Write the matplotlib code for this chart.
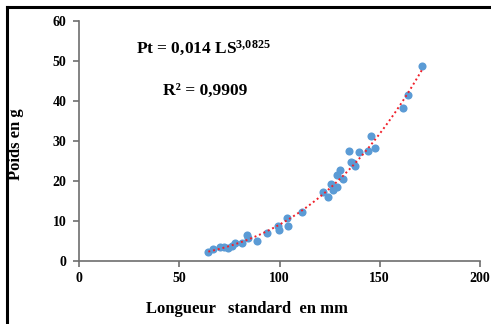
import numpy as np
import matplotlib
matplotlib.use("Agg")
import matplotlib.pyplot as plt
from matplotlib.lines import Line2D

# longueur standard (mm) / poids (g)
ls = [64.5, 67, 70.3, 72.3, 74.5, 76.1, 77.8, 81.1, 83.6, 84.4, 88.6, 93.6,
      99.4, 99.9, 103.6, 104.4, 111, 121.9, 124, 125.5, 126.8, 128.8, 128.8,
      130.2, 131.8, 134.5, 135.7, 136.5, 137.8, 139.5, 144.3, 145.6, 147.8,
      161.8, 163.9, 171.2]
pt = [2.2, 2.9, 3.4, 3.6, 3.3, 3.75, 4.4, 4.6, 6.5, 5.7, 5.1, 6.9,
      8.75, 7.75, 10.8, 8.8, 12.25, 17.2, 15.9, 19.2, 17.75, 18.4, 21.6,
      22.75, 20.5, 27.5, 24.7, 24.4, 23.8, 27.2, 27.6, 31.3, 28.3,
      38.3, 41.5, 48.8]

xticks = [0, 50, 100, 150, 200]
yticks = [0, 10, 20, 30, 40, 50, 60]

plt.rcParams['font.family'] = ['Liberation Serif', 'DejaVu Serif']
plt.rcParams['font.weight'] = 'bold'
plt.rcParams['mathtext.fontset'] = 'custom'
plt.rcParams['mathtext.rm'] = 'Liberation Serif'
plt.rcParams['mathtext.bf'] = 'Liberation Serif:bold'
plt.rcParams['mathtext.default'] = 'bf'

fig = plt.figure(figsize=(4.91, 3.24), dpi=100)
ax = fig.add_axes([79 / 491, 1 - 261 / 324, 401 / 491, 240 / 324])

ax.scatter(ls, pt, s=34, color='#5B9BD5', zorder=2, linewidths=0)

# power trendline (fitted like Excel does)
b, a = np.polyfit(np.log(ls), np.log(pt), 1)
xx = np.linspace(min(ls), max(ls), 200)
ax.plot(xx, np.exp(a) * xx ** b, color='#F0202A', lw=1.4, ls=(0, (1, 1.5)), zorder=3)

ax.set_xlim(0, 200)
ax.set_ylim(0, 60)
ax.set_xticks(xticks)
ax.set_yticks(yticks)
for s in ['top', 'right']:
    ax.spines[s].set_visible(False)
for s in ['left', 'bottom']:
    ax.spines[s].set_color('#6E6E6E')
    ax.spines[s].set_linewidth(1.2)
ax.tick_params(colors='#6E6E6E', length=4, width=1.2, labelsize=10, labelcolor='black')
ax.tick_params(axis='x', direction='out', pad=4)
ax.tick_params(axis='y', direction='out', pad=5)

ax.set_xlabel('Longueur   standard  en mm', fontsize=12, fontweight='bold', va='center')
ax.xaxis.set_label_coords(0.42, -0.2)
ax.set_ylabel('Poids en g', fontsize=12, fontweight='bold', va='center')
ax.yaxis.set_label_coords(-0.157, 0.4875)

ax.text(0.143, 0.885, r'Pt = 0,014 LS$^{3{,}0825}$', transform=ax.transAxes,
        fontsize=12.5, fontweight='bold', va='center')
ax.text(0.21, 0.71, 'R² = 0,9909', transform=ax.transAxes,
        fontsize=12.5, fontweight='bold', va='center')

# frame from the original document (only left and top edges visible)
fig.add_artist(Line2D([7 / 491, 7 / 491], [0, 1 - 7 / 324], color='black', lw=2.2))
fig.add_artist(Line2D([7 / 491, 1], [1 - 7 / 324, 1 - 7 / 324], color='black', lw=2.2))

fig.savefig('out.png', dpi=100)
